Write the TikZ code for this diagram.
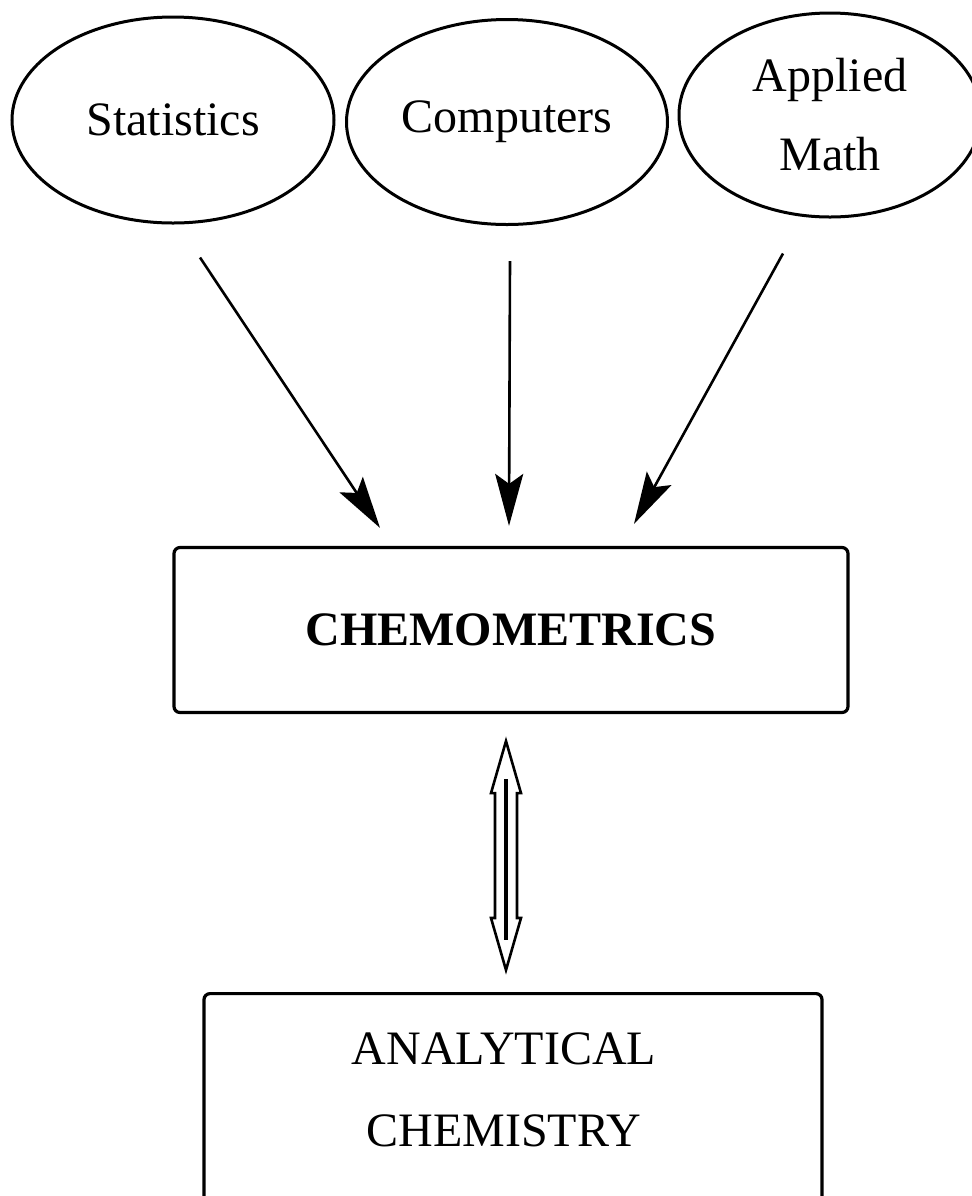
\documentclass[tikz,border=0pt]{standalone}
\usepackage{fontspec}
\setmainfont{Liberation Serif}
\usetikzlibrary{arrows.meta,positioning,shapes.geometric,calc}

\begin{document}
\begin{tikzpicture}[x=0.5pt, y=-0.5pt,
  field/.style={ellipse, draw, line width=1.5pt, inner sep=0pt, minimum width=161pt, minimum height=103pt, align=center, font=\fontsize{24}{39.5}\selectfont},
  panel/.style={rectangle, draw, line width=1.6pt, rounded corners=3pt, inner sep=0pt},
  feed/.style={-{Stealth[length=26pt, width=14pt, inset=5pt]}, line width=1.3pt},
  twin/.style={line width=1.3pt, line join=miter}
]
\useasboundingbox (0,0) rectangle (972,1196);

\node[field] (stat) at (173,120) {Statistics};
\node[field, minimum width=160.5pt, minimum height=102.5pt] (comp) at (507,122) {Computers};
\node[field, minimum width=151pt, minimum height=102pt] (math) at (830,115) {Applied\\Math};
\node[panel, minimum width=337pt, minimum height=82.5pt, font=\bfseries\fontsize{24}{29}\selectfont] (chemo) at (511,630) {CHEMOMETRICS};
\node[panel, anchor=north, minimum width=309pt, minimum height=130pt] (anal) at (513,992) {};
\node[align=center, font=\fontsize{24}{41}\selectfont] (analtxt) at (504,1090) {ANALYTICAL\\CHEMISTRY};

\draw[feed] ($(stat.south)+(27,33)$) -- ($(chemo.north)+(-131,-18)$);
\draw[feed] ($(comp.south)+(3,35)$) -- ($(chemo.north)+(-2,-20)$);
\draw[feed] ($(math.south)+(-47,35)$) -- ($(chemo.north)+(123,-22)$);

\coordinate (up) at ($(chemo.south)+(-5,27)$);
\coordinate (dn) at ($(anal.north)+(-7,-22)$);
\draw[twin] (up) -- ++(15,52) -- ++(-4,0) -- ($(dn)+(11,-52)$) -- ++(4,0) -- (dn) -- ++(-15,-52) -- ++(4,0) -- ($(up)+(-11,52)$) -- ++(-4,0) -- cycle;
\draw[line width=2pt] ($(up)+(0,38)$) -- ($(dn)+(0,-30)$);
\end{tikzpicture}
\end{document}
